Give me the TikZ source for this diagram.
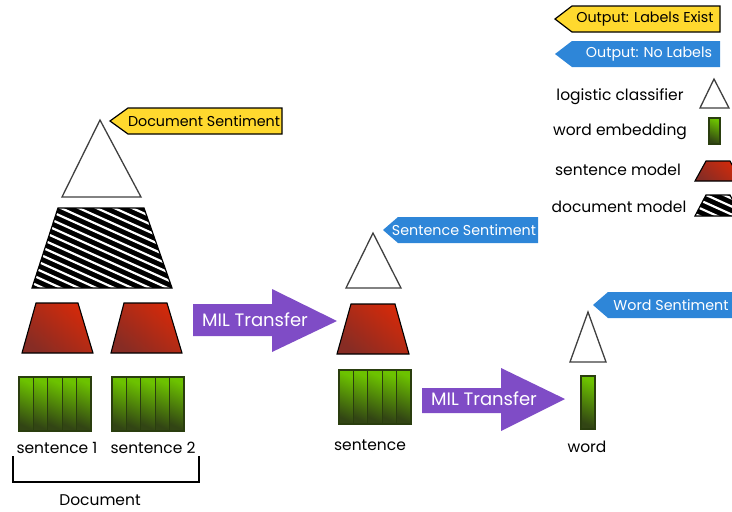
\documentclass[tikz,border=0pt]{standalone}
\usepackage{fontspec}
\setmainfont{Poppins}
\definecolor{tagyellow}{HTML}{FFD92E}
\definecolor{tagblue}{HTML}{2E86D8}
\definecolor{milpurple}{HTML}{7F4CC6}
\definecolor{redL}{HTML}{D42A0A}
\definecolor{redD}{HTML}{872C24}
\definecolor{greenL}{HTML}{6CC200}
\definecolor{greenD}{HTML}{324514}
\definecolor{greenE}{HTML}{2A3E0E}
\tikzset{
  tri/.style={fill=white, draw=black!75, line width=1.3pt},
  redbox/.style={top color=redL, bottom color=redD, shading angle=-40, draw=black, line width=1.1pt},
  greenbar/.style={top color=greenL, bottom color=greenD, shading angle=-25, draw=greenE, line width=1.2pt},
  yellowtag/.style={fill=tagyellow, draw=black, line width=1.2pt, line join=miter},
  bluetag/.style={fill=tagblue},
  tagtxt/.style={font=\fontsize{14.3}{16}\selectfont, inner sep=0pt},
  whitetag/.style={tagtxt, text=white},
  miltxt/.style={font=\fontsize{18}{20}\selectfont, text=white, inner sep=0pt},
  lbl/.style={font=\fontsize{15.5}{18}\selectfont, inner sep=0pt},
  milarrow/.style={fill=milpurple},
}
\newcommand\tagpoly[6]{\path[#6] (#1,{(#4+#5)/2}) -- (#2,#4) -- (#3,#4) -- (#3,#5) -- (#2,#5) -- cycle;}
\newcommand\redtrap[6]{\shadedraw[redbox] (#1,#5) -- (#2,#5) -- (#4,#6) -- (#3,#6) -- cycle;}
\newcommand\hatchtrap[6]{%
  \begin{scope}
    \clip (#1,#5) -- (#2,#5) -- (#4,#6) -- (#3,#6) -- cycle;
    \fill[black] (#1,#5) -- (#2,#5) -- (#4,#6) -- (#3,#6) -- cycle;
    \foreach \k in {-40,...,20} \draw[white, line width=2.2pt] ({#3-60},{#5+\k*8}) -- ++(400,180);
  \end{scope}
  \draw[black, line width=1.2pt] (#1,#5) -- (#2,#5) -- (#4,#6) -- (#3,#6) -- cycle;}
\newcommand\greenblock[5]{%
  \pgfmathsetmacro\bw{#3/#5}%
  \foreach \i in {1,...,#5} {\shadedraw[greenbar] ({#1+(\i-1)*\bw},#2) rectangle ++(\bw,#4);}}
\begin{document}
\begin{tikzpicture}[x=1pt,y=-1pt]
\useasboundingbox (0,0) rectangle (732,512);

% ---------- legend ----------
\tagpoly{555}{572}{720}{6}{32}{yellowtag}
\node[tagtxt] (outE) at (645,19) {Output: Labels Exist};
\tagpoly{555}{572}{720}{41}{67}{bluetag}
\node[whitetag] (outN) at (649,54) {Output: No Labels};

\node[lbl] (lc) at (620,97) {logistic classifier};
\draw[tri] (714,79) -- (729,108) -- (700,108) -- cycle;
\node[lbl] (we) at (620,132) {word embedding};
\greenblock{709}{118}{11}{26}{1}
\node[lbl] (sm) at (618,170) {sentence model};
\redtrap{706}{730}{695}{741}{161}{181}
\node[lbl] (dm) at (619,207) {document model};
\hatchtrap{706}{730}{695}{741}{195}{216}

% ---------- document column ----------
\draw[tri] (100,120) -- (141,197) -- (62,197) -- cycle;
\tagpoly{110}{128}{282}{108}{134}{yellowtag}
\node[tagtxt] (docS) at (204,121) {Document Sentiment};
\hatchtrap{58}{144}{32}{172}{208}{288}
\redtrap{36}{78}{22}{93}{303}{353}
\redtrap{124}{167}{111}{182}{303}{353}
\greenblock{19}{377}{72}{54}{5}
\greenblock{112}{377}{72}{54}{5}
\node[lbl] (s1) at (57,448) {sentence 1};
\node[lbl] (s2) at (153,448) {sentence 2};
\draw[black, line width=1.3pt] (13,456) -- (13,482) -- (199,482) -- (199,456);
\node[lbl] (doc) at (100,500) {Document};

% ---------- MIL transfer 1 ----------
\fill[milarrow] (193,304) -- (272,304) -- (272,289) -- (337,321) -- (272,352) -- (272,336) -- (193,336) -- cycle;
\node[miltxt] (mil1) at (255,320) {MIL Transfer};

% ---------- sentence column ----------
\draw[tri] (373,233) -- (401,288) -- (346,288) -- cycle;
\tagpoly{383}{398}{538}{217}{243}{bluetag}
\node[whitetag] (senS) at (464,230) {Sentence Sentiment};
\redtrap{351}{395}{337}{409}{304}{354}
\greenblock{339}{370}{72}{54}{5}
\node[lbl] (sen) at (370,445) {sentence};

% ---------- MIL transfer 2 ----------
\fill[milarrow] (422,388) -- (501,388) -- (501,368) -- (565,399) -- (501,431) -- (501,413) -- (422,413) -- cycle;
\node[miltxt] (mil2) at (484,399) {MIL Transfer};

% ---------- word column ----------
\draw[tri] (588,312) -- (606,362) -- (570,362) -- cycle;
\tagpoly{593}{608}{745}{292}{318}{bluetag}
\node[whitetag] (wordS) at (671,305) {Word Sentiment};
\greenblock{581}{376}{14}{53}{1}
\node[lbl] (word) at (587,447) {word};
\end{tikzpicture}
\end{document}
